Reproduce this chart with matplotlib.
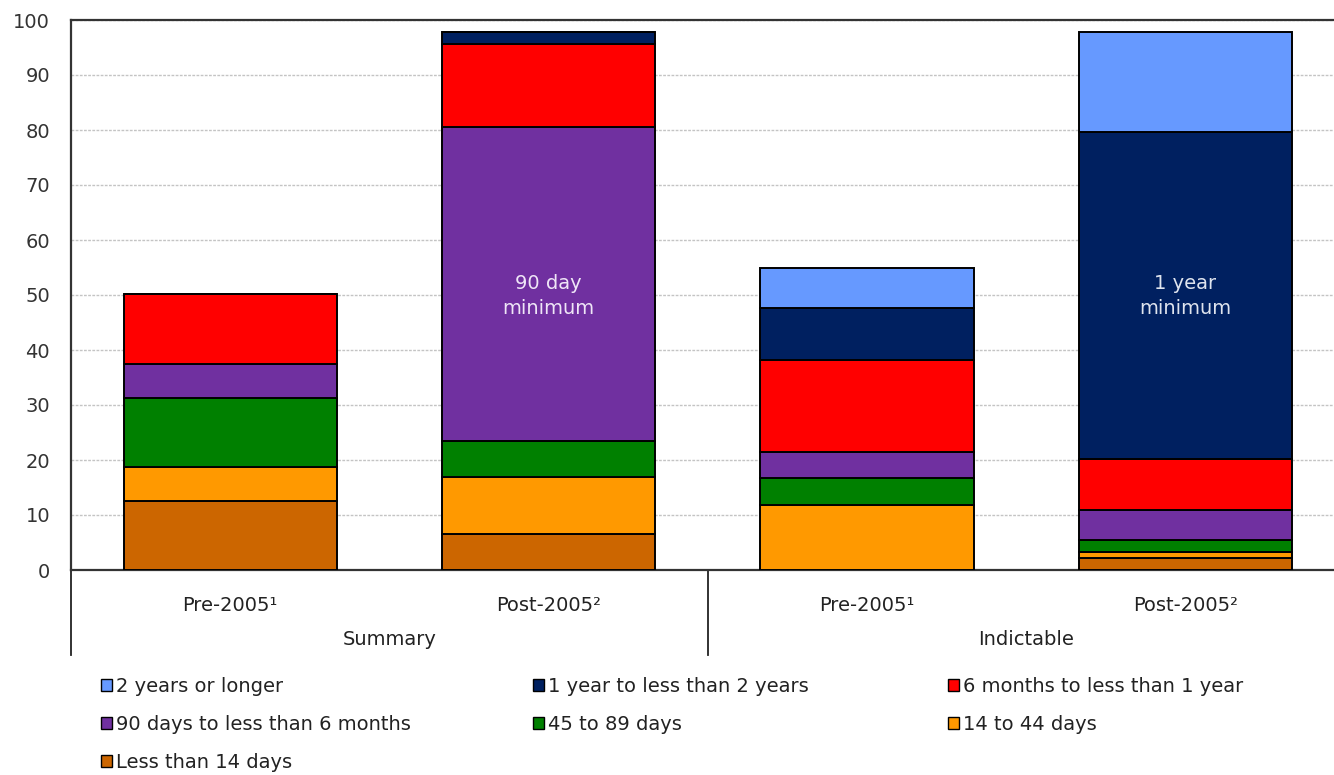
import numpy as np
import matplotlib
matplotlib.use('Agg')
import matplotlib.pyplot as plt
from matplotlib.patches import Patch
import matplotlib.transforms as mtransforms

plt.rcParams['font.family'] = ['DejaVu Sans']

categories = ['Pre-2005¹', 'Post-2005²', 'Pre-2005¹', 'Post-2005²']
groups = ['Summary', 'Indictable']

# stacked from the bottom up
series_names = ['Less than 14 days', '14 to 44 days', '45 to 89 days',
                '90 days to less than 6 months', '6 months to less than 1 year',
                '1 year to less than 2 years', '2 years or longer']
less_14 = [12.6, 6.5, 0.0, 2.1]
d14_44 = [6.2, 10.5, 11.9, 1.1]
d45_89 = [12.4, 6.5, 4.8, 2.3]
d90_6m = [6.2, 57.1, 4.7, 5.4]
m6_1y = [12.7, 15.0, 16.7, 9.3]
y1_2y = [0.0, 2.2, 9.5, 59.5]
y2_plus = [0.0, 0.0, 7.3, 18.1]
series = [less_14, d14_44, d45_89, d90_6m, m6_1y, y1_2y, y2_plus]
colors = ['#CC6600', '#FF9900', '#008000', '#7030A0', '#FF0000', '#002060', '#6699FF']

notes = {1: ('90 day\nminimum', '#efe6f7'), 3: ('1 year\nminimum', '#dfe4ee')}

fig = plt.figure(figsize=(13.34, 7.75), dpi=100)
ax = fig.add_axes([71 / 1334, 1 - 570 / 775, (1344.5 - 71) / 1334, 550 / 775])

x = np.arange(len(categories))
bottom = np.zeros(len(categories))
for vals, col in zip(series, colors):
    vals = np.array(vals)
    ax.bar(x, vals, bottom=bottom, width=0.67, color=col, edgecolor='black',
           linewidth=1.4, zorder=3)
    bottom += vals

for i, (txt, c) in notes.items():
    ax.text(x[i], 49.8, txt, ha='center', va='center', color=c, fontsize=14,
            linespacing=1.35, zorder=4)

ax.set_xlim(-0.5, len(categories) - 0.5)
ax.set_ylim(0, 100)
ax.set_yticks(np.arange(0, 101, 10))
ax.yaxis.grid(True, linestyle=(0, (2, 1)), color='#c4c4c4', linewidth=1.0, zorder=0)
ax.tick_params(axis='y', length=0, pad=15, labelsize=14, labelcolor='#333333')
ax.set_xticks(x, categories)
ax.tick_params(axis='x', length=0, pad=19, labelsize=14, labelcolor='#222222')
for s in ['left', 'top', 'bottom']:
    ax.spines[s].set_color('#333333')
    ax.spines[s].set_linewidth(1.6)
ax.spines['right'].set_visible(False)

# group separators and group labels below the axis
trans = mtransforms.blended_transform_factory(ax.transData, ax.transAxes)
for xs in [-0.5, 1.5]:
    ax.plot([xs, xs], [0, -0.155], transform=trans, color='#222222', lw=1.3, clip_on=False)
for gi, g in enumerate(groups):
    ax.text(gi * 2 + 0.5, -0.127, g, transform=trans, ha='center', va='center',
            fontsize=14, color='#222222')

# legend, laid out row by row in three columns
handles = {n: Patch(facecolor=c, edgecolor='black', linewidth=1) for n, c in zip(series_names, colors)}
legend_cols = [['2 years or longer', '90 days to less than 6 months', 'Less than 14 days'],
               ['1 year to less than 2 years', '45 to 89 days'],
               ['6 months to less than 1 year', '14 to 44 days']]
col_x = [101, 533, 948]
for names, lx in zip(legend_cols, col_x):
    leg = fig.legend([handles[n] for n in names], names, loc='upper left',
                     bbox_to_anchor=(lx / 1334, 1 - 677 / 775), frameon=False,
                     fontsize=14, handlelength=0.58, handleheight=0.58,
                     handletextpad=0.2, labelspacing=0.98, borderpad=0,
                     borderaxespad=0)
    for t in leg.get_texts():
        t.set_color('#222222')

fig.savefig('out.png', dpi=100)
